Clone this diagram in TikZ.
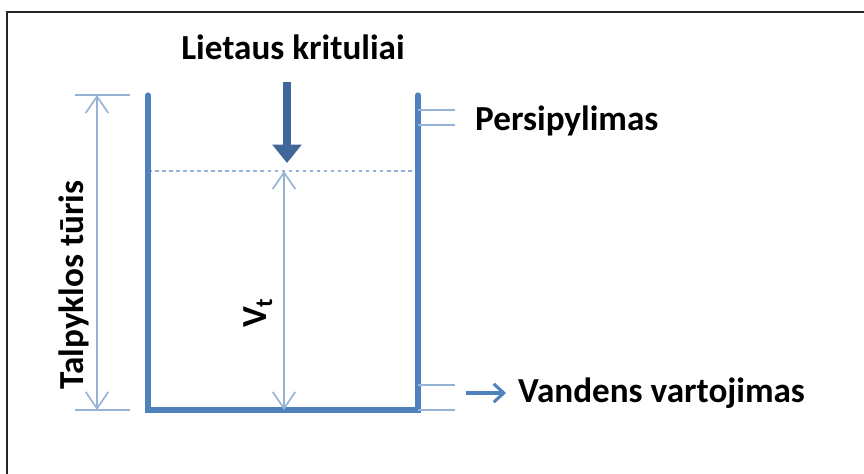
\documentclass[tikz,border=0pt]{standalone}
\usepackage{fontspec}
\setmainfont{Carlito}
\usetikzlibrary{arrows.meta}
\definecolor{tankblue}{RGB}{79,129,189}
\definecolor{dimblue}{RGB}{149,179,215}
\definecolor{rainblue}{RGB}{64,102,154}
\tikzset{
  wall/.style={draw=tankblue,line width=4.4pt,line cap=round},
  dimline/.style={draw=dimblue,line width=1.4pt},
  dimarrow/.style={dimline,{Straight Barb[length=5mm,width=6.8mm,line width=1.4pt]}-{Straight Barb[length=5mm,width=6.8mm,line width=1.4pt]}},
  tick/.style={draw=dimblue,line width=1.6pt},
  lbl/.style={font=\fontsize{30}{34}\selectfont\bfseries,inner sep=0pt}
}
\begin{document}
\begin{tikzpicture}[x=0.03cm,y=0.03cm]
\useasboundingbox (0,0) rectangle (864,474);
\draw[line width=1.6pt,black!85] (7,0) -- (7,462) -- (864,462);
\coordinate (tl) at (148,379);
\coordinate (bl) at (148,64);
\coordinate (br) at (418,64);
\coordinate (tr) at (418,379);
\coordinate (wl) at (148,303);
\coordinate (wr) at (418,303);
\draw[draw=dimblue,line width=1.2pt,dashed] (wl) -- (wr);
\draw[wall] (tl) -- (bl) -- (br) -- (tr);
\draw[tick] (418,364) -- (455,364);
\draw[tick] (418,349) -- (455,349);
\draw[tick] (418,89) -- (455,89);
\draw[tick] (418,64) -- (455,64);
\draw[tick] (75,379) -- (130,379);
\draw[tick] (75,64) -- (130,64);
\coordinate (dt) at (97,379);
\coordinate (db) at (97,64);
\draw[dimarrow] (dt) -- (db);
\coordinate (vt) at (284,303);
\coordinate (vb) at (284,64);
\draw[dimarrow] (vt) -- (vb);
\coordinate (rs) at (287,392);
\coordinate (re) at (287,311);
\draw[draw=rainblue,line width=6.5pt,-{Triangle[length=5.5mm,width=8.5mm]}] (rs) -- (re);
\node[lbl] (rain) at (293,427) {Lietaus krituliai};
\node[lbl,anchor=west] (over) at (475,353) {Persipylimas};
\coordinate (us) at (466,81);
\coordinate (ue) at (506,81);
\draw[draw=tankblue,line width=2.6pt,-{Straight Barb[length=3mm,width=5.5mm,line width=2.6pt]}] (us) -- (ue);
\node[lbl,anchor=west] (use) at (518,81) {Vandens vartojimas};
\node[lbl,rotate=90] (cap) at (74,189) {Talpyklos tūris};
\node[lbl,rotate=90] (vol) at (258,161) {V\textsubscript{t}};
\end{tikzpicture}
\end{document}
